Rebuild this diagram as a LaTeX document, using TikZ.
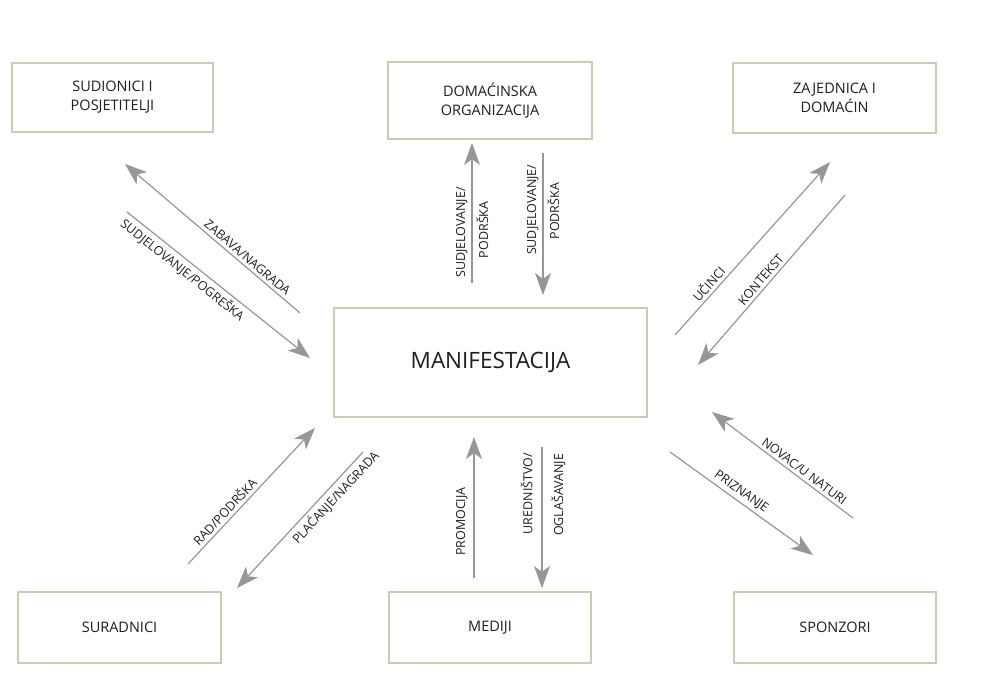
\documentclass[tikz,border=0pt]{standalone}
\usepackage{fontspec}
\setmainfont{Open Sans}
\usetikzlibrary{arrows.meta}
\definecolor{boxline}{RGB}{200,205,180}
\definecolor{flowgray}{RGB}{150,150,150}
\tikzstyle{every node}=[font=\fontsize{14.5}{19}\selectfont, text=black!88]
\tikzstyle{box} = [rectangle, draw=boxline, line width=1.3pt, fill=white, align=center, inner sep=0pt, outer sep=0pt]
\tikzstyle{flow} = [draw=flowgray, line width=1.2pt, -{Stealth[length=22pt,width=16pt,inset=6pt]}]
\tikzstyle{lbl} = [sloped, inner sep=3pt, font=\fontsize{12.5}{14}\selectfont]
\tikzstyle{vlbl} = [rotate=90, inner sep=0pt, font=\fontsize{12.5}{14}\selectfont]

\begin{document}
\begin{tikzpicture}[x=1pt, y=-1pt]
    \useasboundingbox (0,0) rectangle (983,692);
    % Place nodes
    \node [box, minimum width=201pt, minimum height=69pt] (sudionici) at (112.5,97.5) {SUDIONICI I\\POSJETITELJI};
    \node [box, minimum width=204pt, minimum height=77pt] (domacinska) at (490,100.5) {DOMAĆINSKA\\ORGANIZACIJA};
    \node [box, minimum width=203pt, minimum height=70pt] (zajednica) at (834.5,98) {ZAJEDNICA I\\DOMAĆIN};
    \node [box, minimum width=313pt, minimum height=109pt, font=\fontsize{22.5}{24}\selectfont] (manif) at (490.5,362.5) {MANIFESTACIJA};
    \node [box, minimum width=203pt, minimum height=71pt] (suradnici) at (119.5,627.5) {SURADNICI};
    \node [box, minimum width=202pt, minimum height=71pt] (mediji) at (490,627.5) {MEDIJI};
    \node [box, minimum width=202pt, minimum height=71pt] (sponzori) at (835,627.5) {SPONZORI};
    % Arrow ends
    \coordinate (zabava-s) at (300,313);   \coordinate (zabava-e) at (125,164);
    \coordinate (pogreska-s) at (127,212); \coordinate (pogreska-e) at (310,358);
    \coordinate (domup-s) at (472,283);    \coordinate (domup-e) at (472,143);
    \coordinate (domdn-s) at (543,153);    \coordinate (domdn-e) at (543,295);
    \coordinate (ucinci-s) at (675,335);   \coordinate (ucinci-e) at (830,162);
    \coordinate (kontekst-s) at (845,195); \coordinate (kontekst-e) at (698,365);
    \coordinate (rad-s) at (188,564);      \coordinate (rad-e) at (315,428);
    \coordinate (placanje-s) at (363,452); \coordinate (placanje-e) at (237,588);
    \coordinate (promocija-s) at (474,578); \coordinate (promocija-e) at (474,437);
    \coordinate (urednistvo-s) at (542,447); \coordinate (urednistvo-e) at (542,588);
    \coordinate (novac-s) at (853,518);    \coordinate (novac-e) at (712,412);
    \coordinate (priznanje-s) at (670,452); \coordinate (priznanje-e) at (813,555);
    % Draw edges
    \path [flow] (zabava-s) -- node [lbl, pos=0.33, above] {ZABAVA/NAGRADA} (zabava-e);
    \path [flow] (pogreska-s) -- node [lbl, pos=0.34, below] {SUDJELOVANJE/POGREŠKA} (pogreska-e);
    \path [flow] (domup-s) -- node [vlbl, pos=0.36, anchor=south, yshift=4pt] {SUDJELOVANJE/} node [vlbl, pos=0.38, anchor=north, yshift=-4pt] {PODRŠKA} (domup-e);
    \path [flow] (domdn-s) -- node [vlbl, pos=0.40, anchor=south, yshift=4pt] {SUDJELOVANJE/} node [vlbl, pos=0.41, anchor=north, yshift=-4pt] {PODRŠKA} (domdn-e);
    \path [flow] (ucinci-s) -- node [lbl, pos=0.26, above] {UČINCI} (ucinci-e);
    \path [flow] (kontekst-s) -- node [lbl, pos=0.53, above] {KONTEKST} (kontekst-e);
    \path [flow] (rad-s) -- node [lbl, pos=0.34, above] {RAD/PODRŠKA} (rad-e);
    \path [flow] (placanje-s) -- node [lbl, pos=0.28, below] {PLAĆANJE/NAGRADA} (placanje-e);
    \path [flow] (promocija-s) -- node [vlbl, pos=0.40, anchor=south, yshift=6pt] {PROMOCIJA} (promocija-e);
    \path [flow] (urednistvo-s) -- node [vlbl, pos=0.33, anchor=south, yshift=9pt] {UREDNIŠTVO/} node [vlbl, pos=0.34, anchor=north, yshift=-9pt] {OGLAŠAVANJE} (urednistvo-e);
    \path [flow] (novac-s) -- node [lbl, pos=0.38, above] {NOVAC/U NATURI} (novac-e);
    \path [flow] (priznanje-s) -- node [lbl, pos=0.46, above] {PRIZNANJE} (priznanje-e);
\end{tikzpicture}
\end{document}
